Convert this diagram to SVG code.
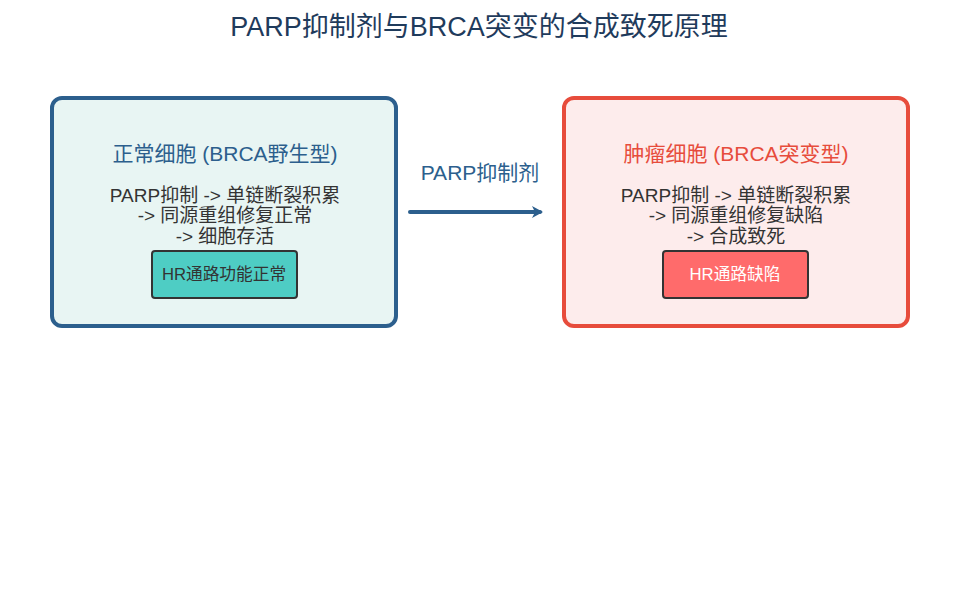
<svg xmlns="http://www.w3.org/2000/svg" width="959" height="591" viewBox="0 0 959 591">
<style>
text{font-family:"Liberation Sans","Noto Sans CJK SC",sans-serif;text-anchor:middle}
.title{font-size:27px;fill:#1f3b5c}
.head{font-size:21px}
.body{font-size:19px;fill:#333}
.small{font-size:16.7px}
</style>
<defs>
<marker id="arr" markerWidth="14" markerHeight="14" refX="8" refY="6" orient="auto" markerUnits="userSpaceOnUse">
<path d="M0,0 L11,6 L0,12 L3,6 Z" fill="#2c5f8d"/>
</marker>
</defs>
<rect width="959" height="591" fill="#fff"/>
<text class="title" x="479" y="36">PARP抑制剂与BRCA突变的合成致死原理</text>
<g id="normal">
<rect x="52" y="98" width="344" height="228" rx="10" fill="#e8f5f3" stroke="#2c5f8d" stroke-width="4"/>
<text class="head" x="225" y="161" fill="#2c5f8d">正常细胞 (BRCA野生型)</text>
<text class="body" x="225" y="202">PARP抑制 -&gt; 单链断裂积累</text>
<text class="body" x="225" y="222">-&gt; 同源重组修复正常</text>
<text class="body" x="225" y="243">-&gt; 细胞存活</text>
<g id="hr-normal">
<rect x="152" y="251" width="145" height="47" rx="3" fill="#4ecdc4" stroke="#333" stroke-width="2"/>
<text class="small" x="224" y="280" fill="#333">HR通路功能正常</text>
</g>
</g>
<g id="tumor">
<rect x="564" y="98" width="344" height="228" rx="10" fill="#fdecec" stroke="#e74c3c" stroke-width="4"/>
<text class="head" x="736" y="161" fill="#e74c3c">肿瘤细胞 (BRCA突变型)</text>
<text class="body" x="736" y="202">PARP抑制 -&gt; 单链断裂积累</text>
<text class="body" x="736" y="222">-&gt; 同源重组修复缺陷</text>
<text class="body" x="736" y="243">-&gt; 合成致死</text>
<g id="hr-defect">
<rect x="663" y="251" width="145" height="47" rx="3" fill="#ff6b6b" stroke="#333" stroke-width="2"/>
<text class="small" x="735" y="280" fill="#fff">HR通路缺陷</text>
</g>
</g>
<g id="connectors">
<line x1="410" y1="212" x2="540" y2="212" stroke="#2c5f8d" stroke-width="4" stroke-linecap="round" marker-end="url(#arr)"/>
<text x="480" y="180" font-size="21" fill="#2c5f8d">PARP抑制剂</text>
</g>
</svg>
